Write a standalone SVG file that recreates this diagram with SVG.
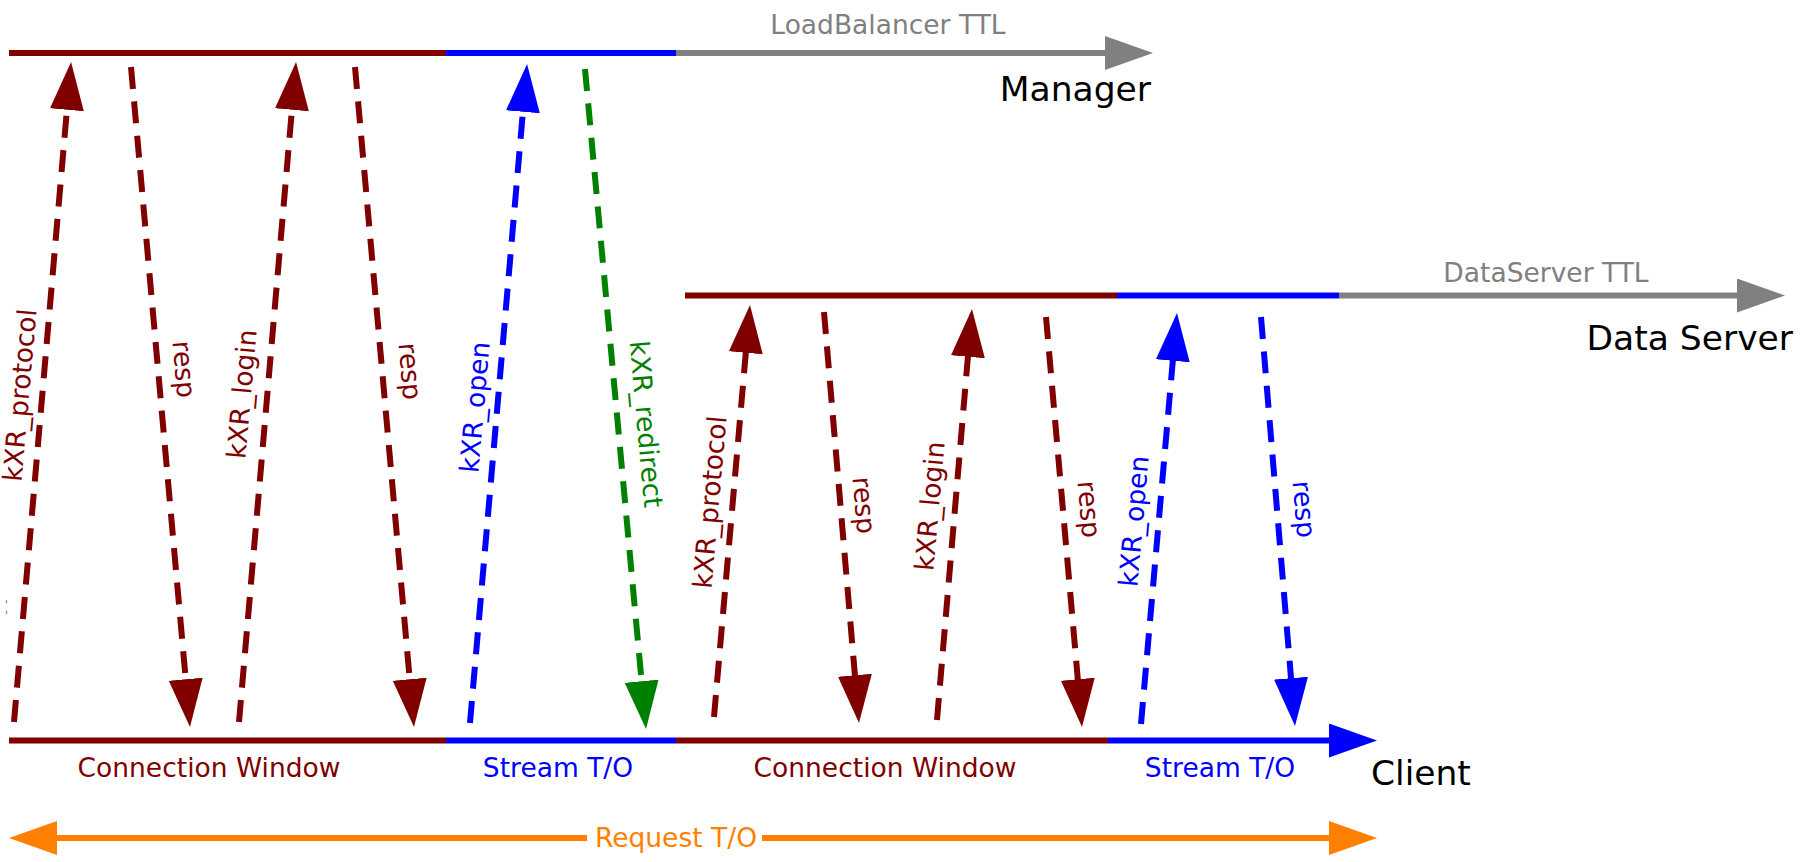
<svg xmlns="http://www.w3.org/2000/svg" width="1802" height="862" viewBox="0 0 1802 862">
<style>
text{font-family:"DejaVu Sans","Liberation Sans",sans-serif;}
.lbl{font-size:26.5px;}
.big{font-size:34.5px;fill:#000;}
.tl{stroke-width:6;fill:none;}
.da{stroke-width:6;fill:none;stroke-dasharray:22 12.5;}
.cm{stroke:#800000;} .cb{stroke:#0000ff;} .cg{stroke:#008000;} .cy{stroke:#808080;} .co{stroke:#ff8000;}
.fm{fill:#800000;} .fb{fill:#0000ff;} .fg{fill:#008000;} .fy{fill:#808080;} .fo{fill:#ff8000;}
</style>
<defs>
<marker id="am" viewBox="0 0 48 34" markerWidth="48" markerHeight="34" markerUnits="userSpaceOnUse" refX="1" refY="17" orient="auto"><path d="M0,0L48,17L0,34z" fill="#800000"/></marker>
<marker id="ab" viewBox="0 0 48 34" markerWidth="48" markerHeight="34" markerUnits="userSpaceOnUse" refX="1" refY="17" orient="auto"><path d="M0,0L48,17L0,34z" fill="#0000ff"/></marker>
<marker id="ag" viewBox="0 0 48 34" markerWidth="48" markerHeight="34" markerUnits="userSpaceOnUse" refX="1" refY="17" orient="auto"><path d="M0,0L48,17L0,34z" fill="#008000"/></marker>
<marker id="ay" viewBox="0 0 48 34" markerWidth="48" markerHeight="34" markerUnits="userSpaceOnUse" refX="1" refY="17" orient="auto"><path d="M0,0L48,17L0,34z" fill="#808080"/></marker>
<marker id="ao" viewBox="0 0 48 34" markerWidth="48" markerHeight="34" markerUnits="userSpaceOnUse" refX="1" refY="17" orient="auto-start-reverse"><path d="M0,0L48,17L0,34z" fill="#ff8000"/></marker>
</defs>

<g id="manager">
<line class="tl cm" x1="9" y1="53" x2="446" y2="53"/>
<line class="tl cb" x1="446" y1="53" x2="676" y2="53"/>
<line class="tl cy" x1="676" y1="53" x2="1106" y2="53" marker-end="url(#ay)"/>
<text class="lbl fy" x="888" y="34" text-anchor="middle">LoadBalancer TTL</text>
<text class="big" x="1151" y="101" text-anchor="end">Manager</text>
</g>

<g id="dataserver">
<line class="tl cm" x1="685" y1="295.5" x2="1117" y2="295.5"/>
<line class="tl cb" x1="1117" y1="295.5" x2="1339" y2="295.5"/>
<line class="tl cy" x1="1339" y1="295.5" x2="1738" y2="295.5" marker-end="url(#ay)"/>
<text class="lbl fy" x="1546" y="282" text-anchor="middle">DataServer TTL</text>
<text class="big" x="1793" y="350" text-anchor="end">Data Server</text>
</g>

<g id="client">
<line class="tl cm" x1="9" y1="740.5" x2="446" y2="740.5"/>
<line class="tl cb" x1="446" y1="740.5" x2="676" y2="740.5"/>
<line class="tl cm" x1="676" y1="740.5" x2="1108" y2="740.5"/>
<line class="tl cb" x1="1108" y1="740.5" x2="1330" y2="740.5" marker-end="url(#ab)"/>
<text class="lbl fm" x="209" y="777" text-anchor="middle">Connection Window</text>
<text class="lbl fb" x="558" y="777" text-anchor="middle">Stream T/O</text>
<text class="lbl fm" x="885" y="777" text-anchor="middle">Connection Window</text>
<text class="lbl fb" x="1220" y="777" text-anchor="middle">Stream T/O</text>
<text class="big" x="1371" y="785">Client</text>
</g>

<g id="request">
<line class="tl co" x1="56" y1="838" x2="1330" y2="838" marker-start="url(#ao)" marker-end="url(#ao)"/>
<rect x="587" y="820" width="175" height="36" fill="#fff"/>
<text class="lbl fo" x="676" y="847" text-anchor="middle">Request T/O</text>
</g>

<g id="connectors">
<line class="da cm" x1="14" y1="722" x2="67" y2="108.8" marker-end="url(#am)"/>
<line class="da cm" x1="131" y1="67" x2="185.8" y2="680.2" marker-end="url(#am)"/>
<line class="da cm" x1="239" y1="722" x2="292" y2="108.8" marker-end="url(#am)"/>
<line class="da cm" x1="355" y1="67" x2="409.8" y2="680.2" marker-end="url(#am)"/>
<line class="da cb" x1="470" y1="723" x2="523" y2="110.8" marker-end="url(#ab)"/>
<line class="da cg" x1="585" y1="69" x2="641.7" y2="682.2" marker-end="url(#ag)"/>
<line class="da cm" x1="714" y1="717" x2="745.9" y2="351.8" marker-end="url(#am)"/>
<line class="da cm" x1="824" y1="312" x2="855" y2="676.2" marker-end="url(#am)"/>
<line class="da cm" x1="937" y1="720" x2="968" y2="355.8" marker-end="url(#am)"/>
<line class="da cm" x1="1046" y1="317" x2="1077.9" y2="680.2" marker-end="url(#am)"/>
<line class="da cb" x1="1141" y1="724" x2="1172.9" y2="359.8" marker-end="url(#ab)"/>
<line class="da cb" x1="1261" y1="317" x2="1291.1" y2="679.2" marker-end="url(#ab)"/>
</g>

<g id="labels">
<text class="lbl fm" transform="translate(29,396) rotate(-85)" text-anchor="middle">kXR_protocol</text>
<text class="lbl fm" transform="translate(175,370) rotate(85)" text-anchor="middle">resp</text>
<text class="lbl fm" transform="translate(251,395) rotate(-85)" text-anchor="middle">kXR_login</text>
<text class="lbl fm" transform="translate(401,372) rotate(85)" text-anchor="middle">resp</text>
<text class="lbl fb" transform="translate(484,408) rotate(-85)" text-anchor="middle">kXR_open</text>
<text class="lbl fg" transform="translate(637,425) rotate(85)" text-anchor="middle">kXR_redirect</text>
<text class="lbl fm" transform="translate(719,503) rotate(-85)" text-anchor="middle">kXR_protocol</text>
<text class="lbl fm" transform="translate(855,506) rotate(85)" text-anchor="middle">resp</text>
<text class="lbl fm" transform="translate(939,507) rotate(-85)" text-anchor="middle">kXR_login</text>
<text class="lbl fm" transform="translate(1080,510) rotate(85)" text-anchor="middle">resp</text>
<text class="lbl fb" transform="translate(1143,522) rotate(-85)" text-anchor="middle">kXR_open</text>
<text class="lbl fb" transform="translate(1295,510) rotate(85)" text-anchor="middle">resp</text>
<text class="fm" transform="translate(5.5,614) scale(0.6,2.6)" font-size="10">:</text>
</g>
</svg>
